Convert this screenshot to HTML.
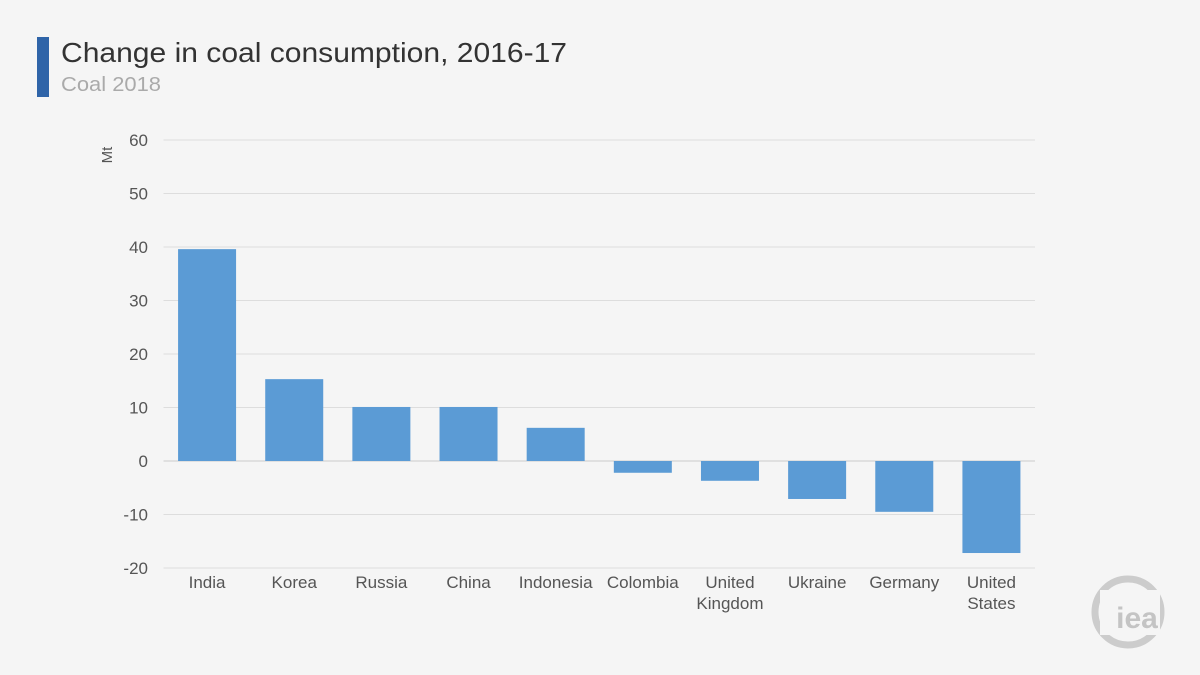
<!DOCTYPE html>
<html><head><meta charset="utf-8"><style>
body{margin:0;background:#f5f5f5;font-family:"Liberation Sans",sans-serif;}
#wrap{position:relative;width:1200px;height:675px;overflow:hidden;background:#f5f5f5}
</style></head><body>
<div id="wrap">
<svg id="svg" width="1200" height="675">
<rect x="37" y="37" width="12" height="60" fill="#2f64a8"/>
<text x="61" y="62" font-size="28" fill="#333" textLength="506" lengthAdjust="spacingAndGlyphs">Change in coal consumption, 2016-17</text>
<text x="61" y="91" font-size="20" fill="#aaa" textLength="100" lengthAdjust="spacingAndGlyphs">Coal 2018</text>
<text transform="translate(112,155) rotate(-90)" text-anchor="middle" font-size="15" fill="#555">Mt</text>
<g id="grid"></g><g id="bars"></g><g id="labels"></g>
<g>
<circle cx="1128" cy="612" r="33" fill="none" stroke="#ccc" stroke-width="7"/>
<rect x="1100" y="590" width="60" height="45" fill="#f5f5f5"/>
<text x="1137" y="628" text-anchor="middle" font-size="30" font-weight="bold" fill="#c4c4c4">iea</text>
</g>
</svg>
</div>
<script>
const categories=["India","Korea","Russia","China","Indonesia","Colombia","United|Kingdom","Ukraine","Germany","United|States"];
const values=[39.6,15.3,10.1,10.1,6.2,-2.2,-3.7,-7.1,-9.5,-17.2];
const yTicks=[60,50,40,30,20,10,0,-10,-20];
(function(){
const NS="http://www.w3.org/2000/svg";
const x0=163.5,x1=1035,yMin=-20,yMax=60,plotTop=140,plotBot=568;
const y=v=>plotTop+(yMax-v)/(yMax-yMin)*(plotBot-plotTop);
const band=(x1-x0)/categories.length;
const xc=i=>x0+band*(i+0.5);
function mk(t,a,p){const e=document.createElementNS(NS,t);for(const k in a)e.setAttribute(k,a[k]);p.appendChild(e);return e;}
const grid=document.getElementById('grid'),bars=document.getElementById('bars'),labels=document.getElementById('labels');
yTicks.forEach(t=>{
 const l=mk('line',{x1:x0,x2:x1,y1:y(t),y2:y(t),stroke:t===0?'#ccc':'#ddd','stroke-width':1},grid);
 
 
 const tx=mk('text',{x:148,y:y(t)+6,'text-anchor':'end','font-size':17,fill:'#555'},grid);
 tx.textContent=t;
 
 
});
values.forEach((v,i)=>{
 const r=mk('rect',{x:xc(i)-29,width:58,y:Math.min(y(v),y(0)),height:Math.abs(y(v)-y(0)),fill:'#5b9bd5'},bars);
 
 
 const parts=categories[i].split('|');
 parts.forEach((p,j)=>{
  const t=mk('text',{x:xc(i),y:588+j*21,'text-anchor':'middle','font-size':17,fill:'#555'},labels);
  t.textContent=p;
  
  
 });
});
})();
</script>
</body></html>
